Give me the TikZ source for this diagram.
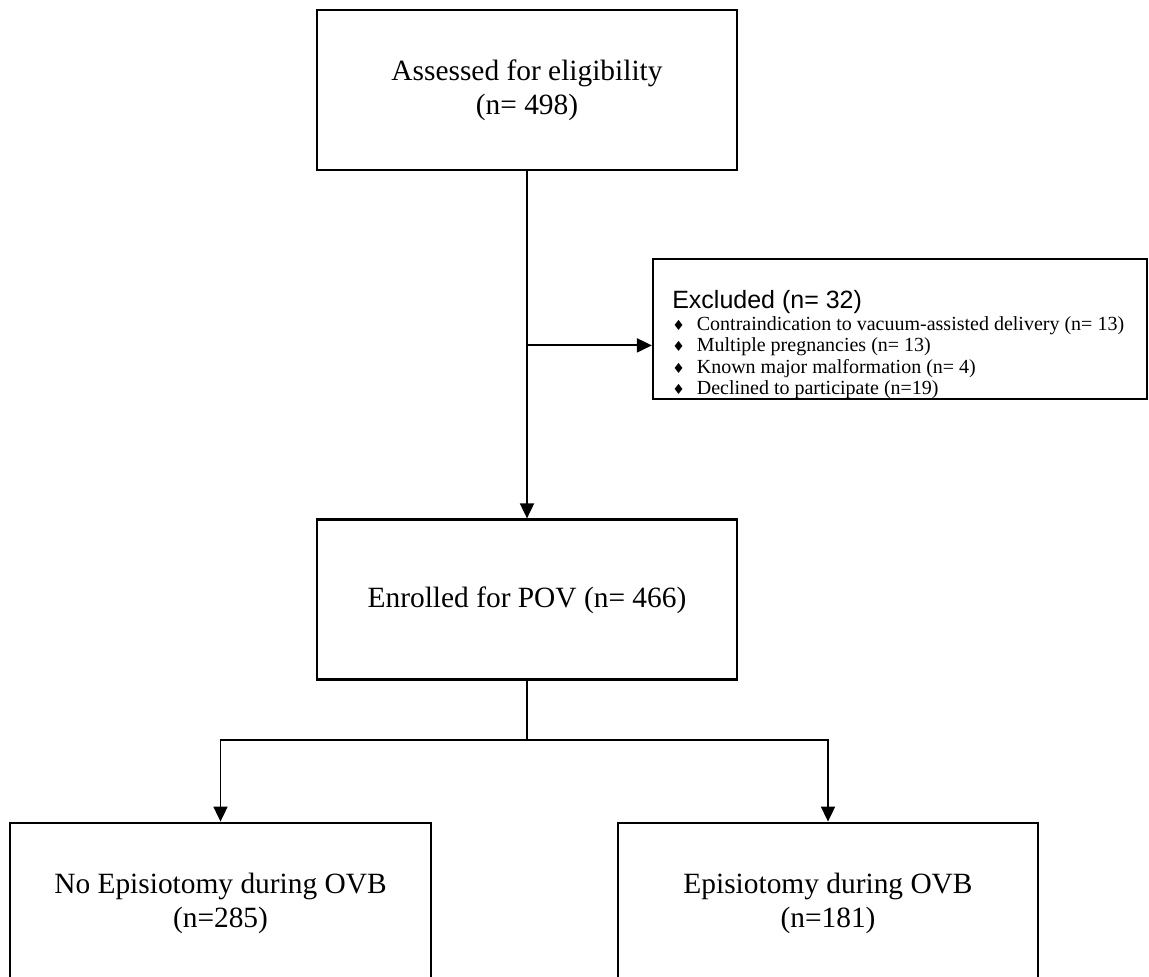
\documentclass[tikz,border=0pt]{standalone}
\usepackage{fontspec}
\setmainfont{Liberation Serif}
\newfontfamily\headfont{Liberation Sans}
\newfontfamily\markfont{DejaVu Sans}
\usetikzlibrary{arrows.meta,positioning}
\newcommand{\itemmark}{{\markfont\fontsize{7}{7}\selectfont ♦}\hspace{6pt}}

\begin{document}
\begin{tikzpicture}[
  x=0.5pt, y=-0.5pt,
  node distance=173.5pt and 58pt,
  box/.style={draw, line width=1.4pt, align=center, minimum width=210pt, minimum height=80pt, font=\fontsize{14.7}{17}\selectfont},
  exbox/.style={draw, line width=1.1pt, minimum width=247pt, minimum height=70pt},
  arr/.style={-{Triangle[length=7.5pt,width=7pt]}, line width=0.9pt},
  link/.style={line width=0.9pt}
]
\useasboundingbox (0,0) rectangle (1149,977);
\node[box] (assess) at (527,90) {Assessed for eligibility\\(n= 498)};
\node[box, below=of assess] (enrol) {Enrolled for POV (n= 466)};
\node[box, minimum width=210.5pt] (noepi) at (220.5,903) {No Episiotomy during OVB\\(n=285)};
\node[box] (epi) at (828,903) {Episiotomy during OVB\\(n=181)};
\node[exbox] (excl) at (900,329) {};
\node[anchor=north west, inner sep=0pt, align=left, font=\fontsize{10}{10.8}\selectfont] (excltext) at ([xshift=10pt, yshift=-16pt]excl.north west)
  {{\headfont\fontsize{12.5}{11}\selectfont Excluded (n= 32)}\\
   \itemmark Contraindication to vacuum-assisted delivery (n= 13)\\
   \itemmark Multiple pregnancies (n= 13)\\
   \itemmark Known major malformation (n= 4)\\
   \itemmark Declined to participate (n=19)};
\coordinate (split) at ([yshift=-87pt]assess.south);
\coordinate (fork) at ([yshift=-29.5pt]enrol.south);
\draw[arr] (assess) -- (enrol);
\draw[arr] (split) -- (excl.west |- split);
\draw[link] (enrol) -- (fork);
\draw[arr] (fork) -| (noepi.north);
\draw[arr] (fork) -| (epi.north);
\end{tikzpicture}
\end{document}
